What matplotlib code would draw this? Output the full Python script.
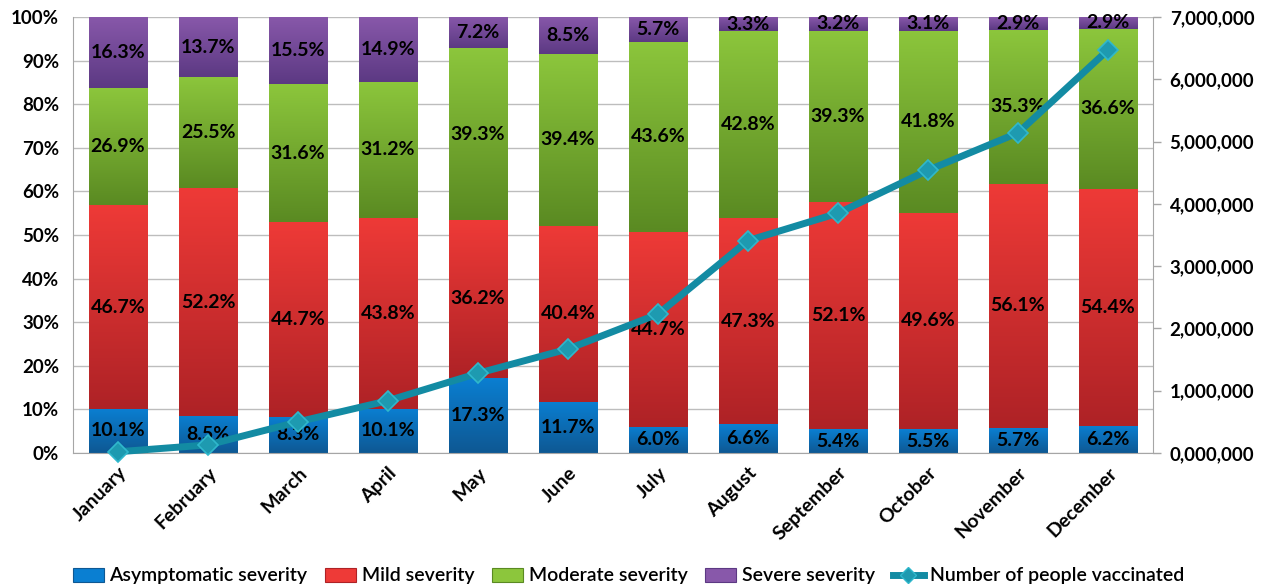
import numpy as np
import matplotlib
matplotlib.use("Agg")
import matplotlib.pyplot as plt
from matplotlib.colors import LinearSegmentedColormap
from matplotlib.patches import Rectangle
from matplotlib.lines import Line2D
from matplotlib.ticker import FuncFormatter, MultipleLocator

plt.rcParams['font.family'] = ['Lato', 'DejaVu Sans']

months = ["January", "February", "March", "April", "May", "June", "July",
          "August", "September", "October", "November", "December"]
asymptomatic = [10.1, 8.5, 8.3, 10.1, 17.3, 11.7, 6.0, 6.6, 5.4, 5.5, 5.7, 6.2]
mild = [46.7, 52.2, 44.7, 43.8, 36.2, 40.4, 44.7, 47.3, 52.1, 49.6, 56.1, 54.4]
moderate = [26.9, 25.5, 31.6, 31.2, 39.3, 39.4, 43.6, 42.8, 39.3, 41.8, 35.3, 36.6]
severe = [16.3, 13.7, 15.5, 14.9, 7.2, 8.5, 5.7, 3.3, 3.2, 3.1, 2.9, 2.9]
vaccinated = [20000, 130000, 500000, 840000, 1280000, 1670000, 2230000,
              3410000, 3850000, 4540000, 5140000, 6470000]

series = [
    ("Asymptomatic severity", asymptomatic, "#0A7FD2", "#0E5893"),
    ("Mild severity", mild, "#EE3A37", "#AE2226"),
    ("Moderate severity", moderate, "#8CC63C", "#5A8A22"),
    ("Severe severity", severe, "#8858AA", "#5C3983"),
]
line_color = "#138BA3"
marker_face = "#1E9AB0"
marker_edge = "#2FB8CC"

fig = plt.figure(figsize=(12.69, 5.86), dpi=100)
ax = fig.add_axes([73 / 1269, 1 - 453 / 586, 1080 / 1269, 436 / 586])
ax2 = ax.twinx()

x = np.arange(len(months))
width = 0.65
grad = np.linspace(1, 0, 256).reshape(-1, 1)
bottom = np.zeros(len(months))
legend_handles = []
for name, vals, top_c, bot_c in series:
    vals = np.array(vals)
    cmap = LinearSegmentedColormap.from_list(name, [bot_c, top_c])
    bars = ax.bar(x, vals, width, bottom=bottom, color="none", linewidth=0, zorder=2)
    for patch, v, b in zip(bars.patches, vals, bottom):
        x0, y0 = patch.get_x(), patch.get_y()
        im = ax.imshow(grad, cmap=cmap, aspect="auto", zorder=2,
                       extent=(x0, x0 + patch.get_width(), y0, y0 + patch.get_height()),
                       interpolation="bilinear")
        im.set_clip_path(patch)
        ax.text(x0 + patch.get_width() / 2, b + v / 2, f"{v:.1f}%",
                ha="center", va="center", fontsize=14, fontweight="bold",
                color="black", zorder=5)
    bottom = bottom + vals
    legend_handles.append(Rectangle((0, 0), 1, 1, facecolor=top_c,
                                    edgecolor=bot_c, linewidth=0.8))

ax.set_xlim(-0.5, len(months) - 0.5)
ax.set_ylim(0, 100)
ax.yaxis.set_major_locator(MultipleLocator(10))
ax.yaxis.set_major_formatter(FuncFormatter(lambda v, p: f"{v:.0f}%"))
ax.grid(axis="y", color="#BDBDBD", linewidth=1.0, zorder=0)
ax.set_axisbelow(True)
ax.set_xticks(x)
ax.set_xticklabels(months, rotation=45, ha="right", rotation_mode="anchor",
                   fontsize=14, fontweight="bold")
ax.tick_params(axis="x", length=0, pad=8)
ax.tick_params(axis="y", length=0, pad=10, labelsize=13.5)
for lbl in ax.get_yticklabels():
    lbl.set_fontweight("bold")
for s in ["left", "bottom"]:
    ax.spines[s].set_color("#A6A6A6")
for s in ["top", "right"]:
    ax.spines[s].set_visible(False)

ax2.plot(x, vaccinated, color=line_color, linewidth=5, marker="D",
         markersize=10.5, markerfacecolor=marker_face, markeredgecolor=marker_edge,
         markeredgewidth=1.2, zorder=6, clip_on=False)
ax2.set_ylim(0, 7000000)
ax2.yaxis.set_major_locator(MultipleLocator(1000000))
ax2.yaxis.set_major_formatter(FuncFormatter(
    lambda v, p: f"{int(v // 1000000)},{int(v % 1000000 // 1000):03d},{int(v % 1000):03d}"))
ax2.tick_params(axis="y", length=6, width=1, color="#A6A6A6", pad=6, labelsize=13.5)
for lbl in ax2.get_yticklabels():
    lbl.set_fontweight("bold")
ax2.spines["right"].set_color("#A6A6A6")
for s in ["top", "left", "bottom"]:
    ax2.spines[s].set_visible(False)

legend_handles.append(Line2D([0], [0], color=line_color, linewidth=5, marker="D",
                             markersize=8, markerfacecolor=marker_face,
                             markeredgecolor=marker_edge))
labels = [s[0] for s in series] + ["Number of people vaccinated"]
fig.legend(legend_handles, labels, loc="center", bbox_to_anchor=(0.495, 1 - 576 / 586),
           ncol=5, frameon=False, prop={"size": 14, "weight": "semibold"},
           handlelength=1.6, handleheight=0.7, columnspacing=0.9, handletextpad=0.3)

fig.savefig("out.png", dpi=100)
